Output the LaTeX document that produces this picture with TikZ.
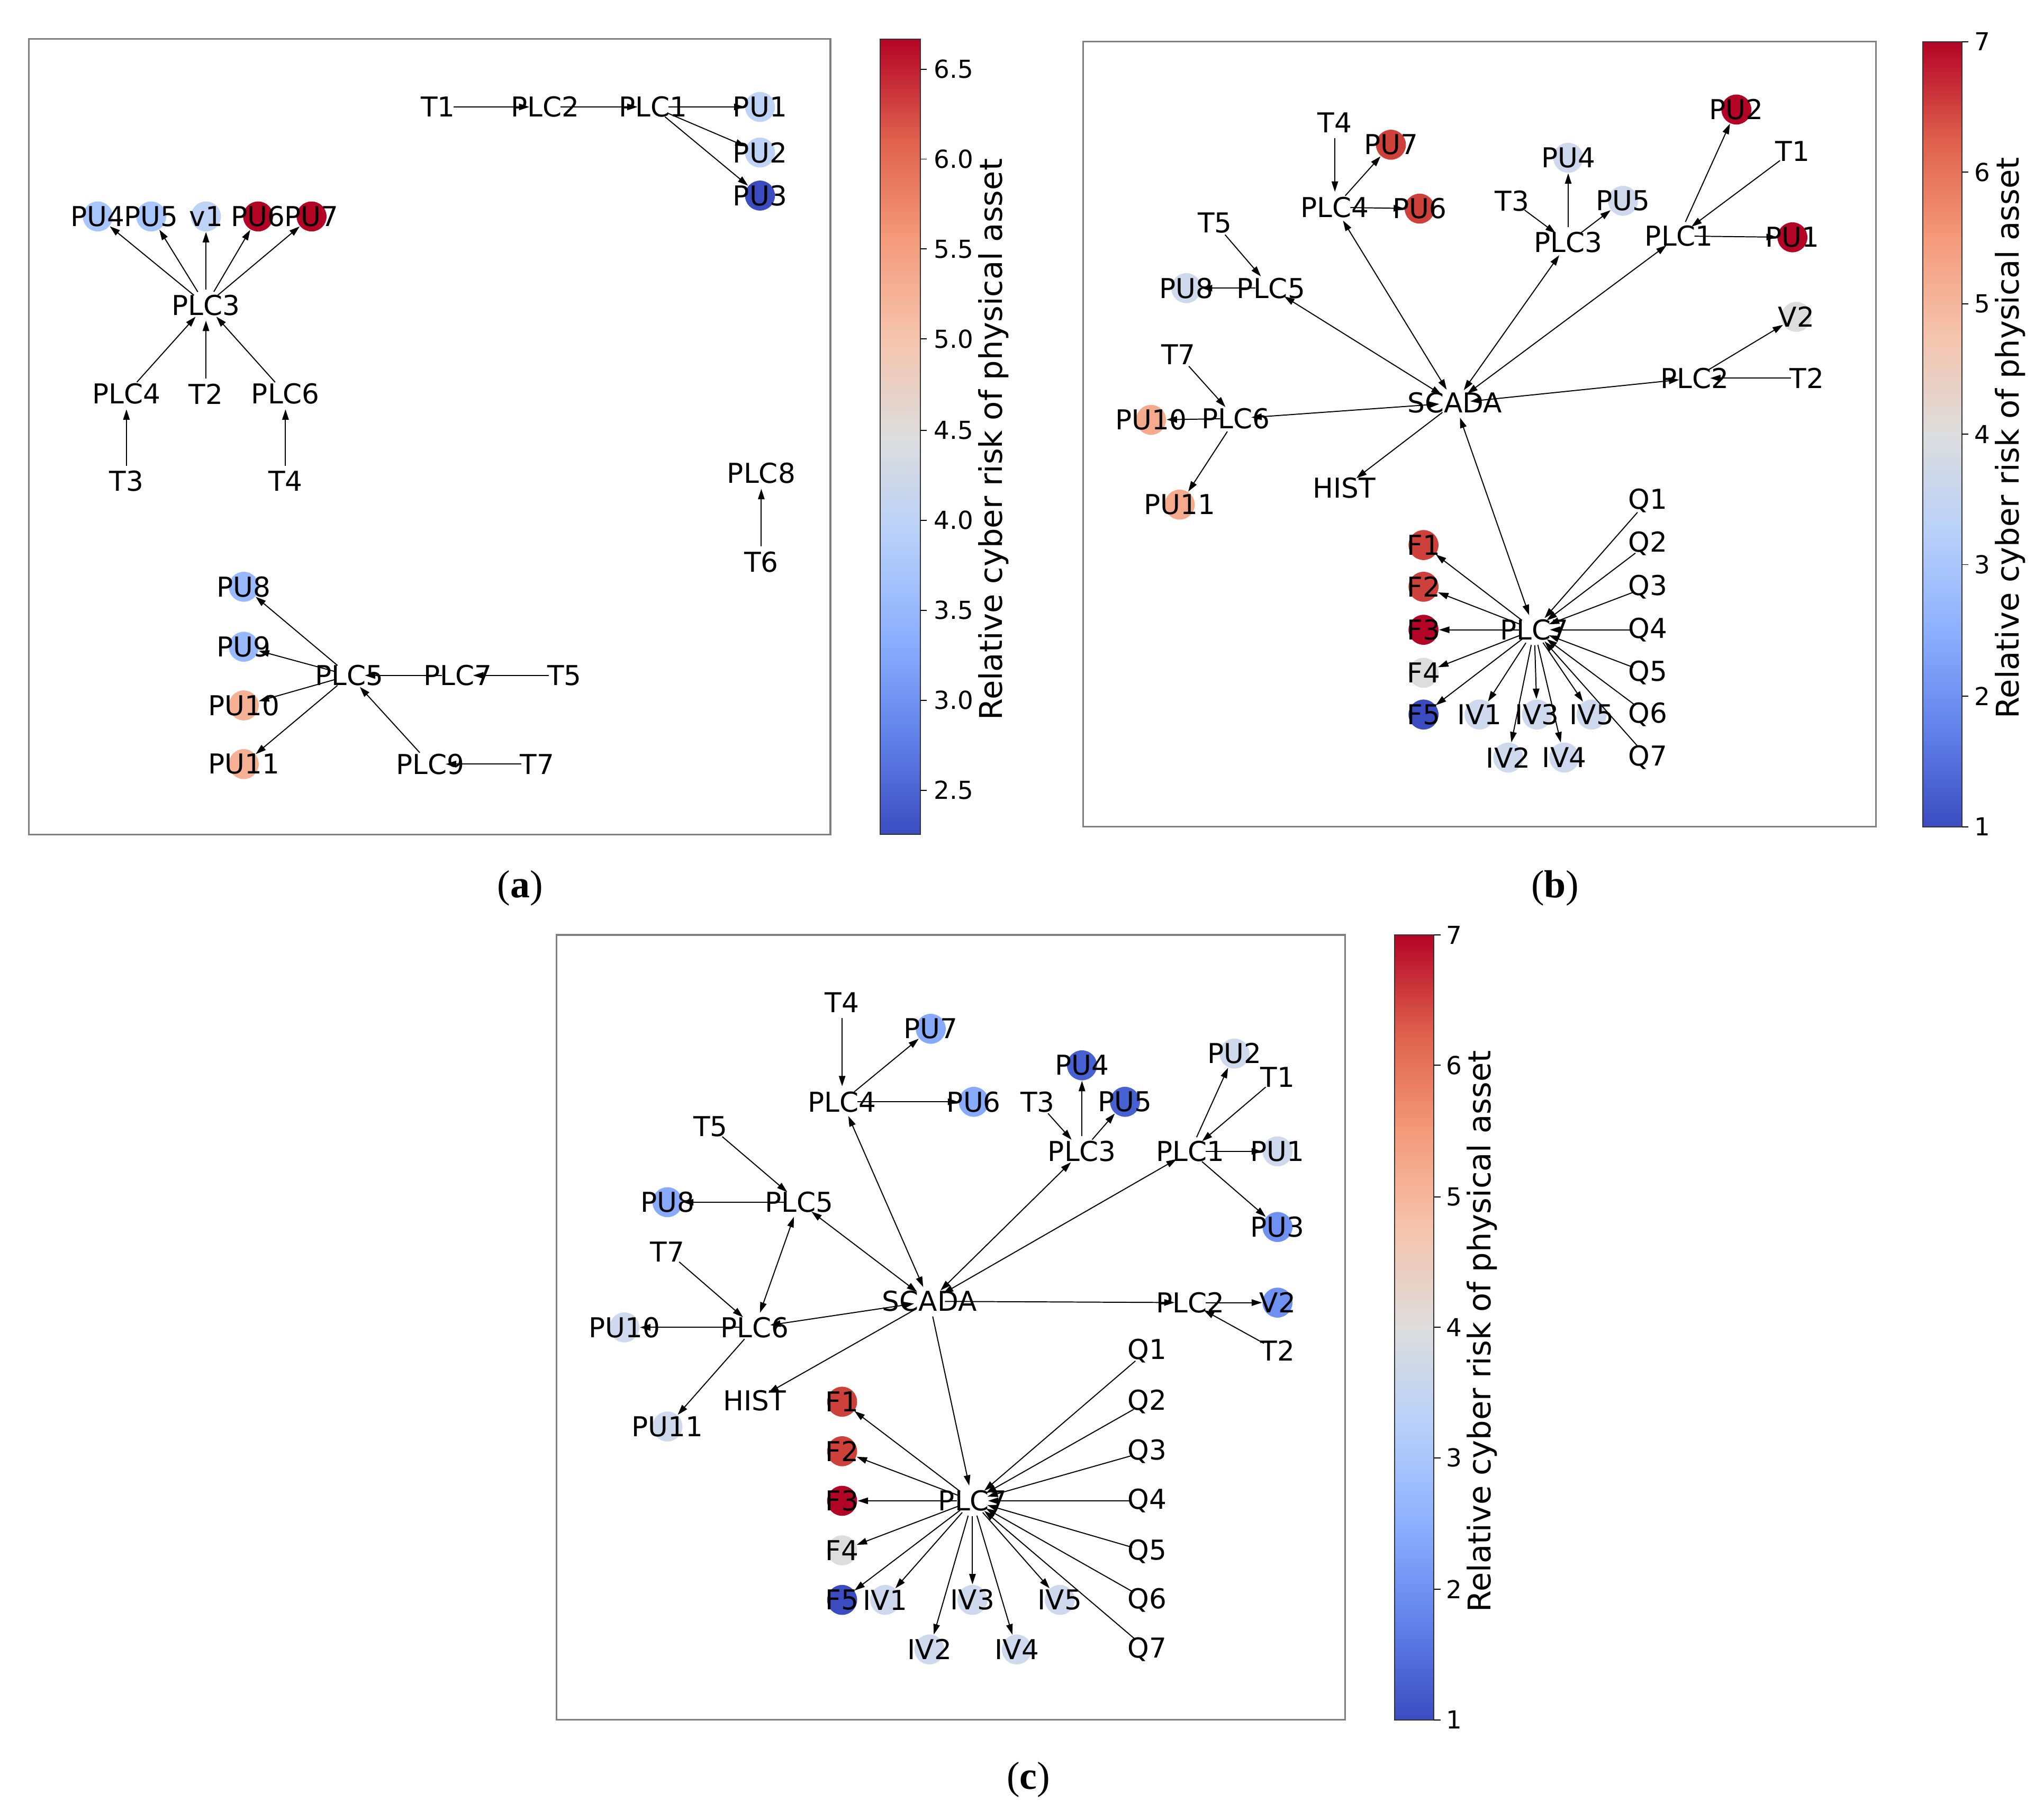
\documentclass[tikz,border=0pt]{standalone}
\usepackage{fontspec}
\setmainfont{DejaVu Sans}
\newfontfamily\capfont{Liberation Serif}
\usepackage{tikz}
\usetikzlibrary{arrows.meta}

% risk colours (coolwarm)
\definecolor{cwdeep}{RGB}{180,4,38}
\definecolor{cwred}{RGB}{205,65,58}
\definecolor{cwsalmon}{RGB}{246,176,148}
\definecolor{cwpeach}{RGB}{246,170,141}
\definecolor{cwgray}{RGB}{221,221,221}
\definecolor{cwpale}{RGB}{206,217,237}
\definecolor{cwlight}{RGB}{190,211,246}
\definecolor{cwsky}{RGB}{168,198,254}
\definecolor{cwcorn}{RGB}{152,185,255}
\definecolor{cwmid}{RGB}{135,170,252}
\definecolor{cwroyal}{RGB}{110,145,242}
\definecolor{cwdark}{RGB}{72,97,210}
\definecolor{cwnavy}{RGB}{59,76,192}

% colour bar stops
\definecolor{cba}{RGB}{59,76,192}
\definecolor{cbb}{RGB}{98,130,234}
\definecolor{cbc}{RGB}{141,176,254}
\definecolor{cbd}{RGB}{184,208,249}
\definecolor{cbe}{RGB}{221,221,221}
\definecolor{cbf}{RGB}{245,196,173}
\definecolor{cbg}{RGB}{244,154,123}
\definecolor{cbh}{RGB}{222,96,77}
\definecolor{cbi}{RGB}{180,4,38}
\pgfdeclareverticalshading{coolwarm}{100bp}{color(0bp)=(cba); color(25bp)=(cba);
  color(31.25bp)=(cbb); color(37.5bp)=(cbc); color(43.75bp)=(cbd); color(50bp)=(cbe);
  color(56.25bp)=(cbf); color(62.5bp)=(cbg); color(68.75bp)=(cbh); color(75bp)=(cbi);
  color(100bp)=(cbi)}

\begin{document}
\begin{tikzpicture}[x=1pt, y=-1pt, line width=0.8pt,
    >={Triangle[length=8pt,width=5pt]},
    dev/.style={circle, minimum size=23pt, inner sep=0pt},
    every label/.style={font=\fontsize{21}{24}\selectfont, inner sep=0pt},
    panel/.style={draw=gray, line width=1.3pt},
    bar/.style={draw=black!80, line width=0.8pt},
    ticklab/.style={anchor=west, inner sep=0pt, font=\fontsize{19}{22}\selectfont},
    barlab/.style={rotate=90, font=\fontsize{24}{28}\selectfont},
    caption/.style={font=\capfont\fontsize{30}{34}\selectfont}]
    \useasboundingbox (0,0) rectangle (1568,1395);

    % Panel (a)
    \draw[panel] (22,30) rectangle (637,640);
    \node[dev, label=center:T1] (at1) at (336,82) {};
    \node[dev, label=center:PLC2] (aplc2) at (418,82) {};
    \node[dev, label=center:PLC1] (aplc1) at (501,82) {};
    \node[dev, fill=cwlight, label=center:PU1] (apu1) at (583,82) {};
    \node[dev, fill=cwlight, label=center:PU2] (apu2) at (583,117) {};
    \node[dev, fill=cwnavy, label=center:PU3] (apu3) at (583,150) {};
    \node[dev, fill=cwsky, label=center:PU4] (apu4) at (75,166) {};
    \node[dev, fill=cwsky, label=center:PU5] (apu5) at (116,166) {};
    \node[dev, fill=cwlight, label=center:v1] (av1) at (158,166) {};
    \node[dev, fill=cwdeep, label=center:PU6] (apu6) at (198,166) {};
    \node[dev, fill=cwdeep, label=center:PU7] (apu7) at (239,166) {};
    \node[dev, label=center:PLC3] (aplc3) at (158,234) {};
    \node[dev, label=center:PLC4] (aplc4) at (97,302) {};
    \node[dev, label=center:T2] (at2) at (158,302) {};
    \node[dev, label=center:PLC6] (aplc6) at (219,302) {};
    \node[dev, label=center:T3] (at3) at (97,369) {};
    \node[dev, label=center:T4] (at4) at (219,369) {};
    \node[dev, label=center:PLC8] (aplc8) at (584,363) {};
    \node[dev, label=center:T6] (at6) at (584,431) {};
    \node[dev, fill=cwcorn, label=center:PU8] (apu8) at (187,450) {};
    \node[dev, fill=cwcorn, label=center:PU9] (apu9) at (187,496) {};
    \node[dev, label=center:PLC5] (aplc5) at (268,518) {};
    \node[dev, label=center:PLC7] (aplc7) at (351,518) {};
    \node[dev, label=center:T5] (at5) at (433,518) {};
    \node[dev, fill=cwsalmon, label=center:PU10] (apu10) at (187,541) {};
    \node[dev, fill=cwsalmon, label=center:PU11] (apu11) at (187,586) {};
    \node[dev, label=center:PLC9] (aplc9) at (330,586) {};
    \node[dev, label=center:T7] (at7) at (412,586) {};

    \draw[->] (at1) -- (aplc2);
    \draw[->] (aplc2) -- (aplc1);
    \draw[->] (aplc1) -- (apu1);
    \draw[->] (aplc1) -- (apu2);
    \draw[->] (aplc1) -- (apu3);
    \draw[->] (aplc3) -- (apu4);
    \draw[->] (aplc3) -- (apu5);
    \draw[->] (aplc3) -- (av1);
    \draw[->] (aplc3) -- (apu6);
    \draw[->] (aplc3) -- (apu7);
    \draw[->] (aplc4) -- (aplc3);
    \draw[->] (at2) -- (aplc3);
    \draw[->] (aplc6) -- (aplc3);
    \draw[->] (at3) -- (aplc4);
    \draw[->] (at4) -- (aplc6);
    \draw[->] (at6) -- (aplc8);
    \draw[->] (aplc5) -- (apu8);
    \draw[->] (aplc5) -- (apu9);
    \draw[->] (aplc5) -- (apu10);
    \draw[->] (aplc5) -- (apu11);
    \draw[->] (aplc7) -- (aplc5);
    \draw[->] (at5) -- (aplc7);
    \draw[->] (aplc9) -- (aplc5);
    \draw[->] (at7) -- (aplc9);

    % Colour bar (a)
    \shade[shading=coolwarm] (675,30) rectangle (706,640);
    \draw[bar] (675,30) rectangle (706,640);
    \draw (706,53) -- ++(5,0);
    \draw (706,122) -- ++(5,0);
    \draw (706,191) -- ++(5,0);
    \draw (706,260) -- ++(5,0);
    \draw (706,330) -- ++(5,0);
    \draw (706,399) -- ++(5,0);
    \draw (706,468) -- ++(5,0);
    \draw (706,537) -- ++(5,0);
    \draw (706,606) -- ++(5,0);
    \node[ticklab] (ata) at (716,53) {6.5};
    \node[ticklab] (atb) at (716,122) {6.0};
    \node[ticklab] (atc) at (716,191) {5.5};
    \node[ticklab] (atd) at (716,260) {5.0};
    \node[ticklab] (ate) at (716,330) {4.5};
    \node[ticklab] (atf) at (716,399) {4.0};
    \node[ticklab] (atg) at (716,468) {3.5};
    \node[ticklab] (ath) at (716,537) {3.0};
    \node[ticklab] (ati) at (716,606) {2.5};
    \node[barlab] (abarlab) at (762,337) {Relative cyber risk of physical asset};
    \node[caption] (capa) at (399,681) {(\textbf{a})};

    % Panel (b)
    \draw[panel] (831,32) rectangle (1439,634);
    \node[dev, label=center:T4] (bt4) at (1024,94) {};
    \node[dev, fill=cwred, label=center:PU7] (bpu7) at (1067,111) {};
    \node[dev, fill=cwdeep, label=center:PU2] (bpu2) at (1332,84) {};
    \node[dev, label=center:T1] (bt1) at (1375,116) {};
    \node[dev, fill=cwpale, label=center:PU4] (bpu4) at (1203,121) {};
    \node[dev, label=center:T5] (bt5) at (932,171) {};
    \node[dev, label=center:PLC4] (bplc4) at (1024,159) {};
    \node[dev, fill=cwred, label=center:PU6] (bpu6) at (1089,160) {};
    \node[dev, label=center:T3] (bt3) at (1160,154) {};
    \node[dev, fill=cwpale, label=center:PU5] (bpu5) at (1245,154) {};
    \node[dev, label=center:PLC3] (bplc3) at (1203,186) {};
    \node[dev, label=center:PLC1] (bplc1) at (1288,181) {};
    \node[dev, fill=cwdeep, label=center:PU1] (bpu1) at (1375,182) {};
    \node[dev, fill=cwpale, label=center:PU8] (bpu8) at (910,221) {};
    \node[dev, label=center:PLC5] (bplc5) at (975,221) {};
    \node[dev, fill=cwgray, label=center:V2] (bv2) at (1378,243) {};
    \node[dev, label=center:T7] (bt7) at (904,272) {};
    \node[dev, label=center:PLC2] (bplc2) at (1300,290) {};
    \node[dev, label=center:T2] (bt2) at (1386,290) {};
    \node[dev, label=center:SCADA] (bscada) at (1116,309) {};
    \node[dev, fill=cwpeach, label=center:PU10] (bpu10) at (883,322) {};
    \node[dev, label=center:PLC6] (bplc6) at (948,321) {};
    \node[dev, label=center:HIST] (bhist) at (1031,374) {};
    \node[dev, fill=cwpeach, label=center:PU11] (bpu11) at (905,387) {};
    \node[dev, label=center:Q1] (bq1) at (1264,384) {};
    \node[dev, label=center:Q2] (bq2) at (1264,417) {};
    \node[dev, label=center:Q3] (bq3) at (1264,450) {};
    \node[dev, label=center:Q4] (bq4) at (1264,483) {};
    \node[dev, label=center:Q5] (bq5) at (1264,516) {};
    \node[dev, label=center:Q6] (bq6) at (1264,548) {};
    \node[dev, label=center:Q7] (bq7) at (1264,581) {};
    \node[dev, fill=cwred, label=center:F1] (bf1) at (1092,418) {};
    \node[dev, fill=cwred, label=center:F2] (bf2) at (1092,450) {};
    \node[dev, fill=cwdeep, label=center:F3] (bf3) at (1092,483) {};
    \node[dev, fill=cwgray, label=center:F4] (bf4) at (1092,516) {};
    \node[dev, fill=cwnavy, label=center:F5] (bf5) at (1092,548) {};
    \node[dev, label=center:PLC7] (bplc7) at (1177,483) {};
    \node[dev, fill=cwpale, label=center:IV1] (biv1) at (1135,548) {};
    \node[dev, fill=cwpale, label=center:IV3] (biv3) at (1179,548) {};
    \node[dev, fill=cwpale, label=center:IV5] (biv5) at (1221,548) {};
    \node[dev, fill=cwpale, label=center:IV2] (biv2) at (1157,581) {};
    \node[dev, fill=cwpale, label=center:IV4] (biv4) at (1200,581) {};

    \draw[->] (bt4) -- (bplc4);
    \draw[->] (bplc4) -- (bpu7);
    \draw[->] (bplc4) -- (bpu6);
    \draw[->] (bt5) -- (bplc5);
    \draw[->] (bplc5) -- (bpu8);
    \draw[->] (bt7) -- (bplc6);
    \draw[->] (bplc6) -- (bpu10);
    \draw[->] (bplc6) -- (bpu11);
    \draw[->] (bt3) -- (bplc3);
    \draw[->] (bplc3) -- (bpu4);
    \draw[->] (bplc3) -- (bpu5);
    \draw[->] (bplc1) -- (bpu2);
    \draw[->] (bt1) -- (bplc1);
    \draw[->] (bplc1) -- (bpu1);
    \draw[->] (bplc2) -- (bv2);
    \draw[->] (bt2) -- (bplc2);
    \draw[<->] (bscada) -- (bplc4);
    \draw[<->] (bscada) -- (bplc5);
    \draw[<->] (bscada) -- (bplc6);
    \draw[<->] (bscada) -- (bplc3);
    \draw[<->] (bscada) -- (bplc1);
    \draw[<->] (bscada) -- (bplc2);
    \draw[<->] (bscada) -- (bplc7);
    \draw[->] (bscada) -- (bhist);
    \draw[->] (bplc7) -- (bf1);
    \draw[->] (bplc7) -- (bf2);
    \draw[->] (bplc7) -- (bf3);
    \draw[->] (bplc7) -- (bf4);
    \draw[->] (bplc7) -- (bf5);
    \draw[->] (bplc7) -- (biv1);
    \draw[->] (bplc7) -- (biv2);
    \draw[->] (bplc7) -- (biv3);
    \draw[->] (bplc7) -- (biv4);
    \draw[->] (bplc7) -- (biv5);
    \draw[->] (bq1) -- (bplc7);
    \draw[->] (bq2) -- (bplc7);
    \draw[->] (bq3) -- (bplc7);
    \draw[->] (bq4) -- (bplc7);
    \draw[->] (bq5) -- (bplc7);
    \draw[->] (bq6) -- (bplc7);
    \draw[->] (bq7) -- (bplc7);

    % Colour bar (b)
    \shade[shading=coolwarm] (1475,32) rectangle (1505,634);
    \draw[bar] (1475,32) rectangle (1505,634);
    \draw (1505,32) -- ++(5,0);
    \draw (1505,132) -- ++(5,0);
    \draw (1505,233) -- ++(5,0);
    \draw (1505,333) -- ++(5,0);
    \draw (1505,433) -- ++(5,0);
    \draw (1505,534) -- ++(5,0);
    \draw (1505,634) -- ++(5,0);
    \node[ticklab] (bta) at (1514,32) {7};
    \node[ticklab] (btb) at (1514,132) {6};
    \node[ticklab] (btc) at (1514,233) {5};
    \node[ticklab] (btd) at (1514,333) {4};
    \node[ticklab] (bte) at (1514,433) {3};
    \node[ticklab] (btf) at (1514,534) {2};
    \node[ticklab] (btg) at (1514,634) {1};
    \node[barlab] (bbarlab) at (1542,336) {Relative cyber risk of physical asset};
    \node[caption] (capb) at (1193,681) {(\textbf{b})};

    % Panel (c)
    \draw[panel] (427,717) rectangle (1032,1319);
    \node[dev, label=center:T4] (ct4) at (646,769) {};
    \node[dev, fill=cwmid, label=center:PU7] (cpu7) at (714,789) {};
    \node[dev, fill=cwdark, label=center:PU4] (cpu4) at (830,817) {};
    \node[dev, fill=cwpale, label=center:PU2] (cpu2) at (947,808) {};
    \node[dev, label=center:T1] (ct1) at (980,826) {};
    \node[dev, label=center:PLC4] (cplc4) at (646,845) {};
    \node[dev, fill=cwmid, label=center:PU6] (cpu6) at (747,845) {};
    \node[dev, label=center:T3] (ct3) at (796,845) {};
    \node[dev, fill=cwdark, label=center:PU5] (cpu5) at (863,845) {};
    \node[dev, label=center:T5] (ct5) at (545,864) {};
    \node[dev, label=center:PLC3] (cplc3) at (830,883) {};
    \node[dev, label=center:PLC1] (cplc1) at (913,883) {};
    \node[dev, fill=cwpale, label=center:PU1] (cpu1) at (980,883) {};
    \node[dev, fill=cwmid, label=center:PU8] (cpu8) at (512,922) {};
    \node[dev, label=center:PLC5] (cplc5) at (613,922) {};
    \node[dev, fill=cwroyal, label=center:PU3] (cpu3) at (980,941) {};
    \node[dev, label=center:T7] (ct7) at (512,960) {};
    \node[dev, label=center:SCADA] (cscada) at (713,998) {};
    \node[dev, label=center:PLC2] (cplc2) at (913,999) {};
    \node[dev, fill=cwroyal, label=center:V2] (cv2) at (980,999) {};
    \node[dev, fill=cwpale, label=center:PU10] (cpu10) at (479,1018) {};
    \node[dev, label=center:PLC6] (cplc6) at (579,1018) {};
    \node[dev, label=center:T2] (ct2) at (980,1036) {};
    \node[dev, label=center:HIST] (chist) at (579,1074) {};
    \node[dev, fill=cwpale, label=center:PU11] (cpu11) at (512,1094) {};
    \node[dev, fill=cwred, label=center:F1] (cf1) at (646,1075) {};
    \node[dev, fill=cwred, label=center:F2] (cf2) at (646,1113) {};
    \node[dev, fill=cwdeep, label=center:F3] (cf3) at (646,1151) {};
    \node[dev, fill=cwgray, label=center:F4] (cf4) at (646,1189) {};
    \node[dev, fill=cwnavy, label=center:F5] (cf5) at (646,1227) {};
    \node[dev, label=center:PLC7] (cplc7) at (746,1151) {};
    \node[dev, label=center:Q1] (cq1) at (880,1036) {};
    \node[dev, label=center:Q2] (cq2) at (880,1075) {};
    \node[dev, label=center:Q3] (cq3) at (880,1113) {};
    \node[dev, label=center:Q4] (cq4) at (880,1151) {};
    \node[dev, label=center:Q5] (cq5) at (880,1190) {};
    \node[dev, label=center:Q6] (cq6) at (880,1227) {};
    \node[dev, label=center:Q7] (cq7) at (880,1265) {};
    \node[dev, fill=cwpale, label=center:IV1] (civ1) at (679,1227) {};
    \node[dev, fill=cwpale, label=center:IV3] (civ3) at (746,1227) {};
    \node[dev, fill=cwpale, label=center:IV5] (civ5) at (813,1227) {};
    \node[dev, fill=cwpale, label=center:IV2] (civ2) at (713,1265) {};
    \node[dev, fill=cwpale, label=center:IV4] (civ4) at (780,1265) {};

    \draw[->] (ct4) -- (cplc4);
    \draw[->] (cplc4) -- (cpu7);
    \draw[->] (cplc4) -- (cpu6);
    \draw[->] (ct5) -- (cplc5);
    \draw[->] (cplc5) -- (cpu8);
    \draw[<->] (cplc5) -- (cplc6);
    \draw[->] (ct7) -- (cplc6);
    \draw[->] (cplc6) -- (cpu10);
    \draw[->] (cplc6) -- (cpu11);
    \draw[->] (ct3) -- (cplc3);
    \draw[->] (cplc3) -- (cpu4);
    \draw[->] (cplc3) -- (cpu5);
    \draw[->] (cplc1) -- (cpu2);
    \draw[->] (ct1) -- (cplc1);
    \draw[->] (cplc1) -- (cpu1);
    \draw[->] (cplc1) -- (cpu3);
    \draw[->] (cplc2) -- (cv2);
    \draw[->] (ct2) -- (cplc2);
    \draw[<->] (cscada) -- (cplc4);
    \draw[<->] (cscada) -- (cplc5);
    \draw[<->] (cscada) -- (cplc6);
    \draw[<->] (cscada) -- (cplc3);
    \draw[<->] (cscada) -- (cplc1);
    \draw[->] (cscada) -- (cplc2);
    \draw[->] (cscada) -- (cplc7);
    \draw[->] (cscada) -- (chist);
    \draw[->] (cplc7) -- (cf1);
    \draw[->] (cplc7) -- (cf2);
    \draw[->] (cplc7) -- (cf3);
    \draw[->] (cplc7) -- (cf4);
    \draw[->] (cplc7) -- (cf5);
    \draw[->] (cplc7) -- (civ1);
    \draw[->] (cplc7) -- (civ2);
    \draw[->] (cplc7) -- (civ3);
    \draw[->] (cplc7) -- (civ4);
    \draw[->] (cplc7) -- (civ5);
    \draw[->] (cq1) -- (cplc7);
    \draw[->] (cq2) -- (cplc7);
    \draw[->] (cq3) -- (cplc7);
    \draw[->] (cq4) -- (cplc7);
    \draw[->] (cq5) -- (cplc7);
    \draw[->] (cq6) -- (cplc7);
    \draw[->] (cq7) -- (cplc7);

    % Colour bar (c)
    \shade[shading=coolwarm] (1070,717) rectangle (1100,1319);
    \draw[bar] (1070,717) rectangle (1100,1319);
    \draw (1100,717) -- ++(5,0);
    \draw (1100,817) -- ++(5,0);
    \draw (1100,918) -- ++(5,0);
    \draw (1100,1018) -- ++(5,0);
    \draw (1100,1118) -- ++(5,0);
    \draw (1100,1219) -- ++(5,0);
    \draw (1100,1319) -- ++(5,0);
    \node[ticklab] (cta) at (1109,717) {7};
    \node[ticklab] (ctb) at (1109,817) {6};
    \node[ticklab] (ctc) at (1109,918) {5};
    \node[ticklab] (ctd) at (1109,1018) {4};
    \node[ticklab] (cte) at (1109,1118) {3};
    \node[ticklab] (ctf) at (1109,1219) {2};
    \node[ticklab] (ctg) at (1109,1319) {1};
    \node[barlab] (cbarlab) at (1137,1021) {Relative cyber risk of physical asset};
    \node[caption] (capc) at (789,1365) {(\textbf{c})};
\end{tikzpicture}
\end{document}
